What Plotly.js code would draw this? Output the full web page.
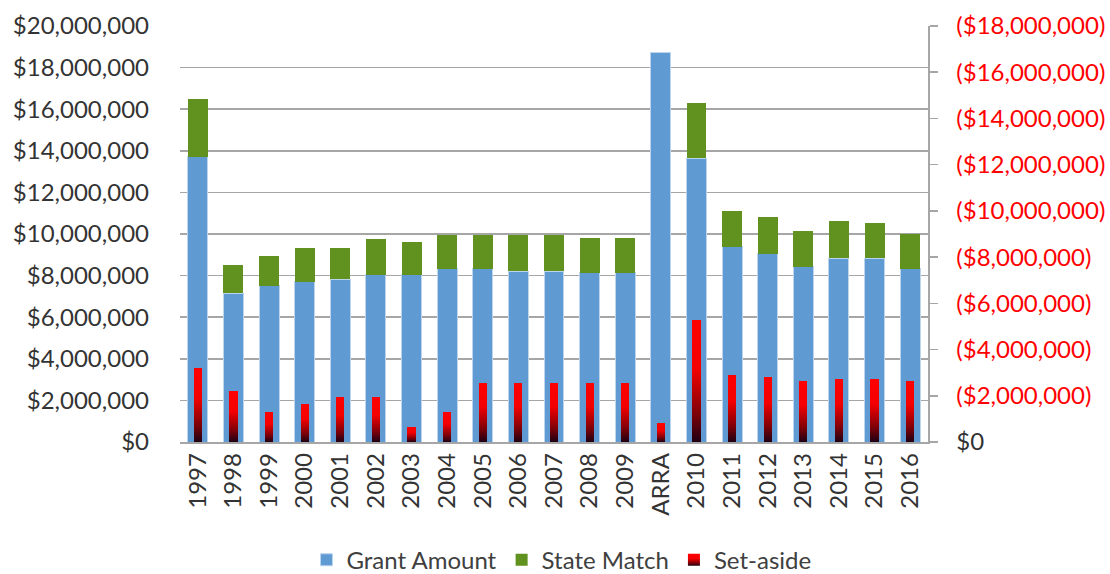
<!DOCTYPE html>
<html>
<head>
<meta charset="utf-8">
<script src="https://cdn.plot.ly/plotly-3.0.1.min.js"></script>
<style>
  html, body { margin: 0; padding: 0; background: #fff; }
  #chart { width: 1110px; height: 574px; }
</style>
</head>
<body>
<div id="chart"></div>
<script>
const categories = ['1997','1998','1999','2000','2001','2002','2003','2004','2005','2006','2007','2008','2009','ARRA','2010','2011','2012','2013','2014','2015','2016'];
const grantAmount = [13720000, 7150000, 7510000, 7710000, 7820000, 8030000, 8030000, 8320000, 8320000, 8220000, 8220000, 8130000, 8130000, 18720000, 13640000, 9380000, 9040000, 8430000, 8830000, 8830000, 8320000];
const stateMatch = [2780000, 1360000, 1420000, 1620000, 1510000, 1730000, 1600000, 1630000, 1630000, 1730000, 1730000, 1690000, 1690000, 0, 2670000, 1740000, 1780000, 1710000, 1810000, 1710000, 1690000];
const setAside = [3200000, 2190000, 1290000, 1650000, 1930000, 1930000, 670000, 1290000, 2550000, 2550000, 2550000, 2550000, 2550000, 840000, 5260000, 2910000, 2830000, 2650000, 2740000, 2740000, 2650000];
const leftTickVals = [0, 2e6, 4e6, 6e6, 8e6, 10e6, 12e6, 14e6, 16e6, 18e6, 20e6];
const leftTickText = ['$0','$2,000,000','$4,000,000','$6,000,000','$8,000,000','$10,000,000','$12,000,000','$14,000,000','$16,000,000','$18,000,000','$20,000,000'];
const rightTickVals = [0, 2e6, 4e6, 6e6, 8e6, 10e6, 12e6, 14e6, 16e6, 18e6];
const rightTickText = ['<span style="fill:#333333">$0</span>','($2,000,000)','($4,000,000)','($6,000,000)','($8,000,000)','($10,000,000)','($12,000,000)','($14,000,000)','($16,000,000)','($18,000,000)'];

const FONT = 'Lato, "Open Sans", sans-serif';
const data = [
  { type: 'bar', name: 'Grant Amount', x: categories, y: grantAmount,
    marker: { color: '#5f9bd2', line: { color: '#bcd5ee', width: 1 } }, hoverinfo: 'x+y' },
  { type: 'bar', name: 'State Match', x: categories, y: stateMatch,
    marker: { color: '#61911f', line: { width: 0 } }, hoverinfo: 'x+y' },
  { type: 'bar', name: 'Set-aside', x: categories, y: setAside, yaxis: 'y2', width: 0.23,
    marker: { color: '#ff0000', line: { width: 0 } }, hoverinfo: 'x+y' }
];

const layout = {
  width: 1110, height: 574,
  margin: { l: 180, r: 182, t: 26, b: 132, autoexpand: false },
  paper_bgcolor: '#ffffff', plot_bgcolor: '#ffffff',
  barmode: 'stack', bargap: 0.44,
  font: { family: FONT, size: 24, color: '#404040' },
  showlegend: true,
  legend: { orientation: 'h', x: 0.51, xanchor: 'center', y: -0.23, yanchor: 'top',
            font: { family: FONT, size: 24, color: '#404040' }, traceorder: 'normal', itemwidth: 30 },
  xaxis: { type: 'category', tickangle: -90, showline: true, linecolor: '#a6a6a6', linewidth: 1.5,
           ticks: '', showgrid: false, automargin: false, tickfont: { family: FONT, size: 24, color: '#333333' }, fixedrange: true },
  yaxis: { range: [0, 20e6], tickvals: leftTickVals, ticktext: leftTickText, showgrid: true, automargin: false,
           gridcolor: '#a6a6a6', gridwidth: 1.5, zeroline: false, showline: false, ticks: '',
           ticklabelstandoff: 30, tickfont: { family: FONT, size: 24, color: '#333333' }, fixedrange: true },
  yaxis2: { range: [0, 18e6], overlaying: 'y', side: 'right', tickvals: rightTickVals, ticktext: rightTickText,
            showgrid: false, zeroline: false, showline: true, linecolor: '#a6a6a6', linewidth: 1.5, automargin: false,
            ticks: 'outside', ticklen: 8, tickcolor: '#a6a6a6', tickwidth: 1.5, ticklabelstandoff: 14,
            tickfont: { family: FONT, size: 24, color: '#ff0000' }, fixedrange: true }
};

function applyGradient(gd) {
  const svg = gd.querySelector('svg.main-svg');
  const ns = 'http://www.w3.org/2000/svg';
  let defs = svg.querySelector('defs');
  if (!defs) { defs = document.createElementNS(ns, 'defs'); svg.insertBefore(defs, svg.firstChild); }
  if (!svg.querySelector('#saGrad')) {
    const g = document.createElementNS(ns, 'linearGradient');
    g.setAttribute('id', 'saGrad');
    g.setAttribute('x1', '0'); g.setAttribute('y1', '0'); g.setAttribute('x2', '0'); g.setAttribute('y2', '1');
    [['0', '#ff0000'], ['0.4', '#f40000'], ['0.78', '#7a0008'], ['1', '#1e0014']].forEach(function (s) {
      const st = document.createElementNS(ns, 'stop');
      st.setAttribute('offset', s[0]); st.setAttribute('stop-color', s[1]);
      g.appendChild(st);
    });
    defs.appendChild(g);
  }
  gd.querySelectorAll('.barlayer .trace').forEach(function (t) {
    const d = t.__data__;
    if (d && d[0] && d[0].trace && d[0].trace.name === 'Set-aside') {
      t.querySelectorAll('path').forEach(function (p) { p.style.fill = 'url(#saGrad)'; });
    }
  });
  const items = gd.querySelectorAll('.legend .traces');
  if (items[2]) items[2].querySelectorAll('.legendpoints path').forEach(function (p) {
    p.style.fill = 'url(#saGrad)';
  });
}

Plotly.newPlot('chart', data, layout, { displayModeBar: false, staticPlot: true }).then(applyGradient);
</script>
</body>
</html>
